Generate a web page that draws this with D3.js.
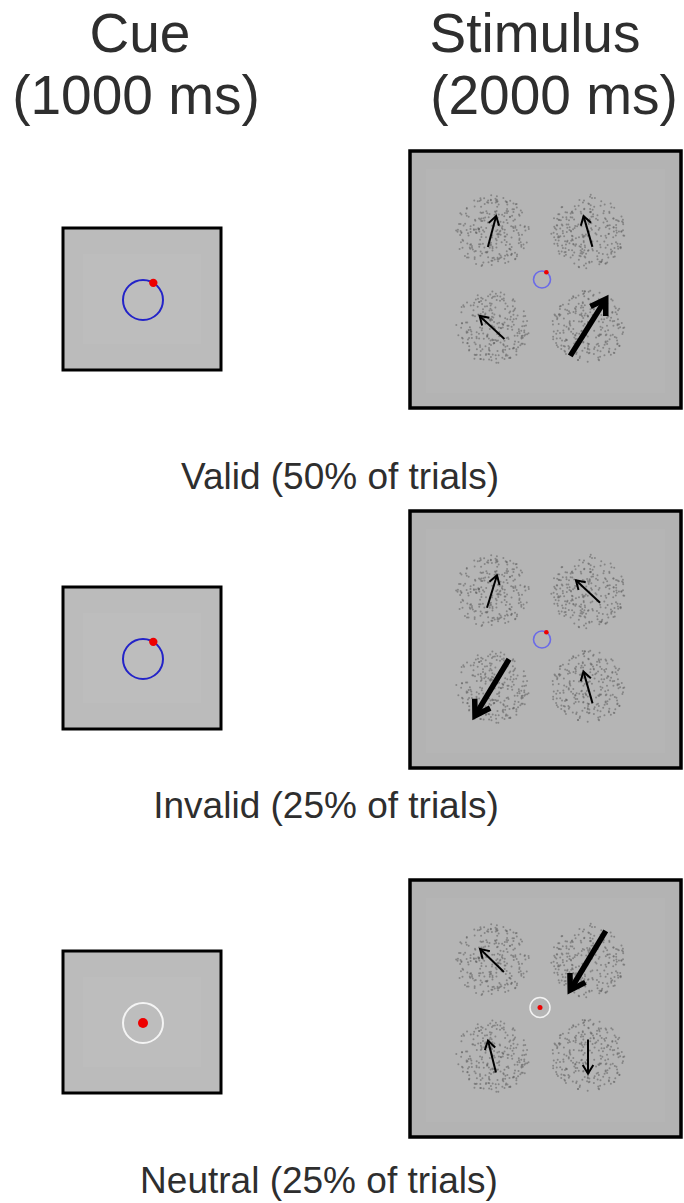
<!DOCTYPE html>
<html>
<head>
<meta charset="utf-8">
<script src="https://cdn.jsdelivr.net/npm/d3@7"></script>
<style>
  html, body { margin: 0; padding: 0; background: #ffffff; }
  svg { display: block; }
  text { font-family: "Liberation Sans", Arial, sans-serif; fill: #2e2e2e; }
</style>
</head>
<body>
<svg id="chart" width="684" height="1203"></svg>
<script>
// ---------- data ----------
const columnTitles = ["Cue", "Stimulus"];
const columnDurations = ["(1000 ms)", "(2000 ms)"];
const conditions = ["Valid", "Invalid", "Neutral"];
const conditionShares = [50, 25, 25];            // % of trials
const cueTypes = ["directional", "directional", "neutral"];
const quadrants = ["TL", "TR", "BL", "BR"];
// motion direction of each cloud (degrees, 0 = right, counter-clockwise)
const arrowAngles = [
  [75, 106, 137, 58],
  [73, 137, 239, 106],
  [136, 239, 104, 270]
];
// arrow length (coherence strength)
const arrowLengths = [
  [32, 32, 34, 67],
  [34, 33, 66, 33],
  [33, 69, 33, 34]
];
// 2 = high-coherence (bold) arrow, 1 = normal
const arrowWeights = [
  [1, 1, 1, 2],
  [1, 1, 2, 1],
  [1, 2, 1, 1]
];
const cueDotAngle = 59;    // deg, position of red dot on the cue ring

// ---------- layout ----------
const svg = d3.select("#chart");

const rowStimTop = [151, 511, 880];
const rowCueTop = [228, 587, 951];
const rowLabelY = [489, 818, 1193];
const rowLabelX = [340, 326, 319];

const cueBox = { x: 63, w: 158, h: 142 };
const stimBox = { x: 410, w: 271, h: 257 };

const toRad = d3.scaleLinear().domain([0, 360]).range([0, 2 * Math.PI]);
const quadX = d3.scaleOrdinal().domain(quadrants).range([-48, 48, -48, 48]);
const quadY = d3.scaleOrdinal().domain(quadrants).range([-48, -48, 48, 48]);

// ---------- headers ----------
const headerX = [[140, 136], [535, 554]];
columnTitles.forEach((t, i) => {
  svg.append("text").attr("x", headerX[i][0]).attr("y", 52)
    .attr("text-anchor", "middle").attr("font-size", 55).text(t);
  svg.append("text").attr("x", headerX[i][1]).attr("y", 114)
    .attr("text-anchor", "middle").attr("font-size", 55).text(columnDurations[i]);
});

// ---------- dot clouds texture (deterministic seeded generator) ----------
const cloudR = 37;
const cloudDots = quadrants.map((q, qi) => {
  const rng = d3.randomLcg(0.137 + qi * 0.211);
  const pts = [];
  for (let k = 0; k < 270; k++) {
    const r = cloudR * Math.sqrt(rng());
    const a = 2 * Math.PI * rng();
    pts.push([r * Math.cos(a), r * Math.sin(a)]);
  }
  return pts;
});

function drawArrow(g, cx, cy, angle, len, weight) {
  const a = toRad(angle);
  const ux = Math.cos(a), uy = -Math.sin(a);
  const x0 = cx - ux * len / 2, y0 = cy - uy * len / 2;
  const x1 = cx + ux * len / 2, y1 = cy + uy * len / 2;
  const sw = weight === 2 ? 5.5 : 2;
  const arm = weight === 2 ? 17 : 10;
  const spread = toRad(32);
  const back = a + Math.PI;
  const ax1 = x1 + Math.cos(back + spread) * arm, ay1 = y1 - Math.sin(back + spread) * arm;
  const ax2 = x1 + Math.cos(back - spread) * arm, ay2 = y1 - Math.sin(back - spread) * arm;
  const sh = weight === 2 ? sw * 0.6 : 0;
  g.append("line")
    .attr("x1", x0).attr("y1", y0)
    .attr("x2", x1 - ux * sh).attr("y2", y1 - uy * sh)
    .attr("stroke", "#000").attr("stroke-width", sw).attr("stroke-linecap", "butt");
  g.append("path")
    .attr("d", d3.line()([[ax1, ay1], [x1, y1], [ax2, ay2]]))
    .attr("fill", "none").attr("stroke", "#000").attr("stroke-width", sw)
    .attr("stroke-linejoin", "miter").attr("stroke-miterlimit", 10);
}

conditions.forEach((cond, ri) => {
  const neutral = cueTypes[ri] === "neutral";

  // ----- cue panel -----
  const cy0 = rowCueTop[ri];
  const cg = svg.append("g");
  cg.append("rect").attr("x", cueBox.x).attr("y", cy0).attr("width", cueBox.w).attr("height", cueBox.h)
    .attr("fill", "#bbbbbb").attr("stroke", "#000").attr("stroke-width", 3);
  cg.append("rect").attr("x", cueBox.x + 20).attr("y", cy0 + 26).attr("width", cueBox.w - 40).attr("height", cueBox.h - 52)
    .attr("fill", "#bdbdbd");
  const ccx = cueBox.x + cueBox.w / 2 + 1, ccy = cy0 + cueBox.h / 2 + 1;
  cg.append("circle").attr("cx", ccx).attr("cy", ccy).attr("r", 20)
    .attr("fill", "none").attr("stroke", neutral ? "#f4f4f4" : "#2323c8").attr("stroke-width", 2);
  const cdA = toRad(cueDotAngle);
  cg.append("circle")
    .attr("cx", neutral ? ccx : ccx + Math.cos(cdA) * 20)
    .attr("cy", neutral ? ccy : ccy - Math.sin(cdA) * 20)
    .attr("r", neutral ? 5 : 4.2).attr("fill", "#ee0000");

  // ----- stimulus panel -----
  const sy0 = rowStimTop[ri];
  const sg = svg.append("g");
  sg.append("rect").attr("x", stimBox.x).attr("y", sy0).attr("width", stimBox.w).attr("height", stimBox.h)
    .attr("fill", "#b3b3b3").attr("stroke", "#000").attr("stroke-width", 3.5);
  sg.append("rect").attr("x", stimBox.x + 16).attr("y", sy0 + 18).attr("width", stimBox.w - 32).attr("height", stimBox.h - 33)
    .attr("fill", "#b5b5b5");
  const scx = 540, scy = sy0 + stimBox.h / 2;

  quadrants.forEach((q, qi) => {
    const qx = scx + quadX(q), qy = scy + quadY(q);
    sg.append("g").selectAll("circle").data(cloudDots[qi]).join("circle")
      .attr("cx", d => qx + d[0]).attr("cy", d => qy + d[1])
      .attr("r", 1).attr("fill", "#666666").attr("opacity", 0.6);
  });
  quadrants.forEach((q, qi) => {
    const qx = scx + quadX(q), qy = scy + quadY(q);
    drawArrow(sg, qx, qy, arrowAngles[ri][qi], arrowLengths[ri][qi], arrowWeights[ri][qi]);
  });

  // fixation
  const fx = scx + 2, fy = scy;
  if (neutral) {
    sg.append("circle").attr("cx", fx - 2).attr("cy", fy - 1).attr("r", 10)
      .attr("fill", "none").attr("stroke", "#f2f2f2").attr("stroke-width", 1.5);
    sg.append("circle").attr("cx", fx - 2).attr("cy", fy - 1).attr("r", 2.5).attr("fill", "#ee0000");
  } else {
    sg.append("circle").attr("cx", fx).attr("cy", fy).attr("r", 8.5)
      .attr("fill", "none").attr("stroke", "#6a6ae8").attr("stroke-width", 1.6);
    sg.append("circle")
      .attr("cx", fx + Math.cos(cdA) * 8.5).attr("cy", fy - Math.sin(cdA) * 8.5)
      .attr("r", 2.3).attr("fill", "#ee0000");
  }

  // condition label
  svg.append("text").attr("x", rowLabelX[ri]).attr("y", rowLabelY[ri])
    .attr("text-anchor", "middle").attr("font-size", 37)
    .text(`${cond} (${conditionShares[ri]}% of trials)`);
});
</script>
</body>
</html>
